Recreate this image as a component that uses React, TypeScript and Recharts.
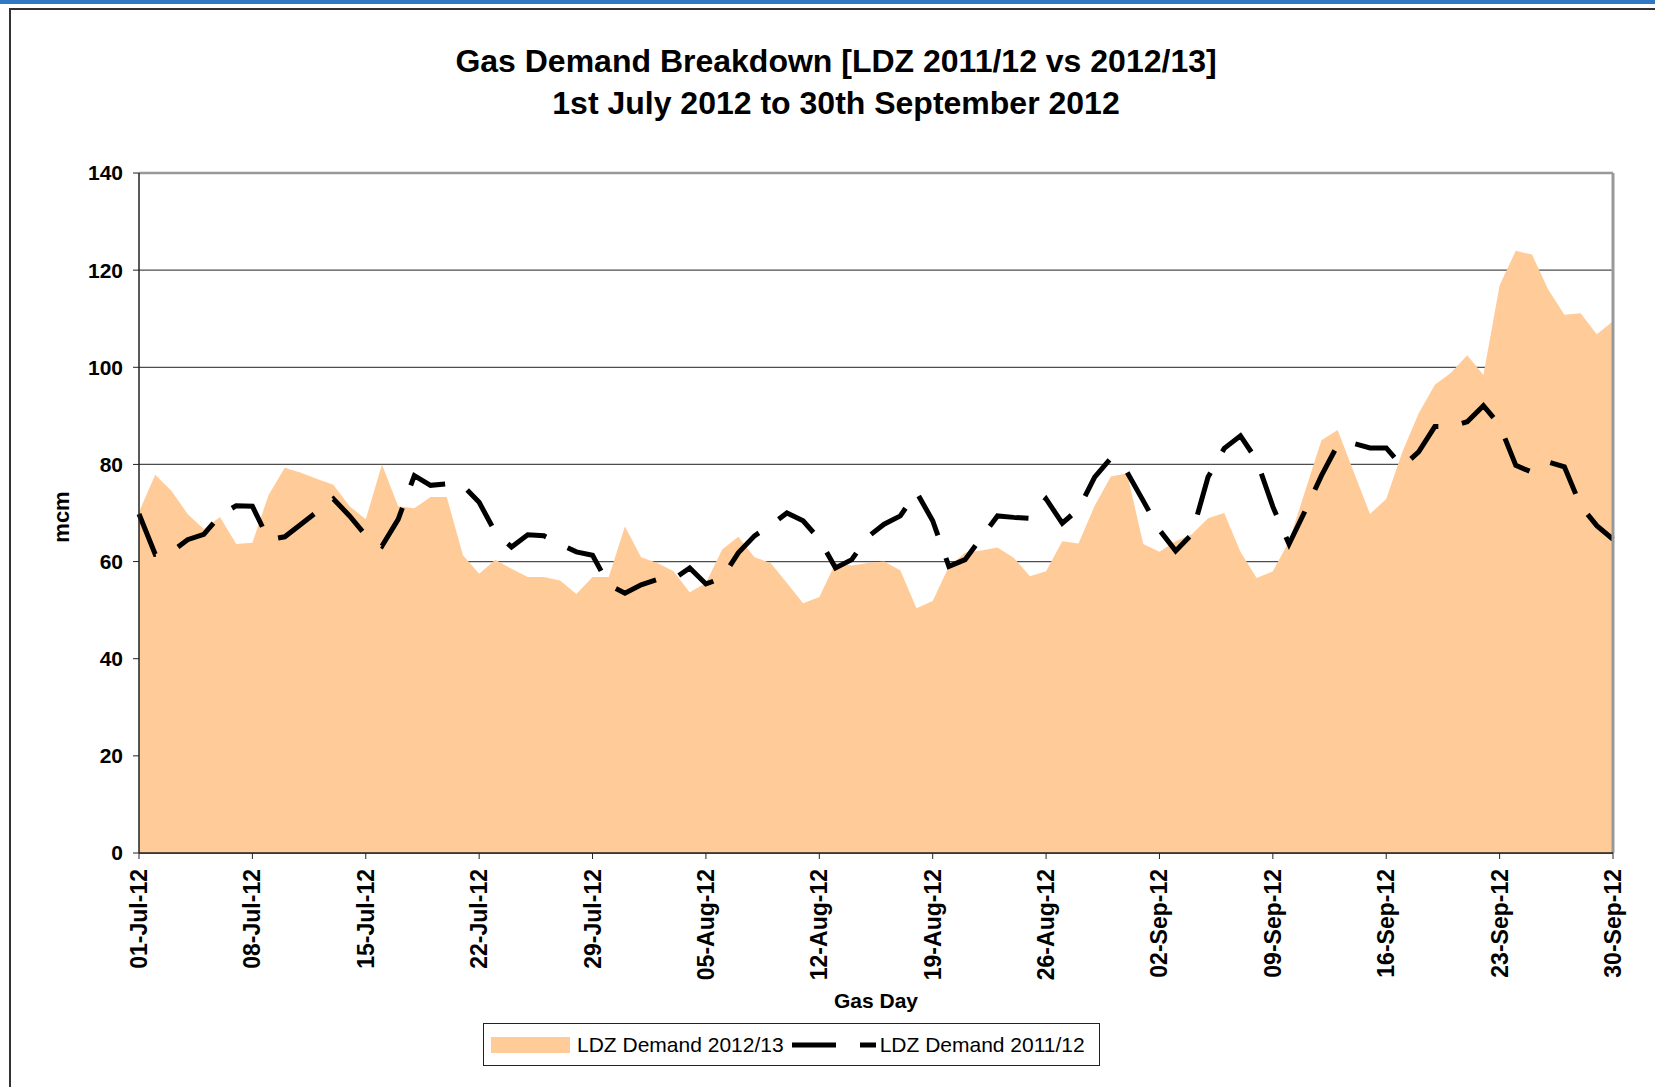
import {
  ComposedChart,
  Area,
  Line,
  XAxis,
  YAxis,
  CartesianGrid,
  ReferenceLine,
} from "recharts";

// gas days, 01-Jul-12 .. 30-Sep-12
const months = [
  { name: "Jul", days: 31 },
  { name: "Aug", days: 31 },
  { name: "Sep", days: 30 },
];
const gasDays: string[] = months.flatMap((m) =>
  Array.from({ length: m.days }, (_, i) => `${String(i + 1).padStart(2, "0")}-${m.name}-12`)
);

// LDZ demand 2012/13 (mcm)
const ldz1213 = [
  70.2, 77.9, 74.6, 69.8, 66.7, 69.2, 63.6, 63.9, 73.7, 79.3,
  78.3, 77.0, 75.8, 71.4, 68.7, 80.0, 71.4, 71.0, 73.3, 73.3,
  61.3, 57.5, 60.4, 58.5, 56.8, 56.8, 56.1, 53.3, 56.8, 56.8,
  67.2, 60.9, 59.7, 58.0, 53.7, 55.6, 62.5, 65.1, 60.9, 59.7,
  55.6, 51.4, 52.7, 59.7, 59.2, 59.7, 60.0, 58.2, 50.4, 51.9,
  59.0, 61.8, 62.3, 62.9, 60.8, 57.0, 58.0, 64.2, 63.7, 71.5,
  77.5, 78.2, 63.6, 62.0, 64.2, 65.6, 68.9, 70.0, 62.0, 56.6,
  58.0, 64.2, 74.6, 85.0, 87.1, 78.4, 69.8, 72.9, 82.6, 90.5,
  96.4, 98.9, 102.5, 98.4, 116.9, 124.0, 123.2, 116.0, 110.8, 111.1,
  106.8, 109.5,
];

// LDZ demand 2011/12 (mcm)
const ldz1112 = [
  69.8, 61.5, 62.0, 64.5, 65.6, 69.5, 71.5, 71.4, 64.5, 65.1,
  67.7, 70.3, 72.9, 69.4, 65.4, 63.2, 68.7, 77.7, 75.7, 76.0,
  75.6, 72.2, 66.0, 63.0, 65.5, 65.3, 63.6, 62.0, 61.3, 55.2,
  53.5, 55.2, 56.3, 56.4, 58.7, 55.4, 56.6, 61.8, 65.3, 67.5,
  70.0, 68.4, 64.6, 58.7, 60.4, 65.1, 67.7, 69.4, 74.3, 68.4,
  59.0, 60.4, 64.9, 69.4, 69.1, 68.9, 72.9, 67.9, 70.8, 77.4,
  81.3, 78.4, 72.5, 66.5, 62.2, 65.6, 77.4, 83.3, 85.9, 80.9,
  71.3, 63.6, 70.5, 77.7, 84.0, 84.3, 83.4, 83.4, 79.5, 82.6,
  87.8, 87.8, 88.8, 92.1, 88.1, 79.8, 78.4, 80.5, 79.5, 71.5,
  67.4, 64.6,
];

const yTicks = [0, 20, 40, 60, 80, 100, 120, 140];

const data = gasDays.map((d, i) => ({
  day: d,
  d1213: ldz1213[i],
  d1112: ldz1112[i],
}));

const FONT = "'Liberation Sans', Arial, sans-serif";
const ORANGE = "#FFCC99";

const DayTick = ({ x, y, payload }: any) => (
  <text
    x={x}
    y={y + 8}
    transform={`rotate(-90, ${x}, ${y + 8})`}
    textAnchor="end"
    dominantBaseline="central"
    fontFamily={FONT}
    fontWeight="bold"
    fontSize={23}
    fill="#000"
  >
    {payload.value}
  </text>
);

export default function App() {
  return (
    <div
      style={{
        position: "absolute",
        left: 0,
        top: 0,
        width: 1655,
        height: 1087,
        background: "#fff",
        overflow: "hidden",
        fontFamily: FONT,
      }}
    >
      <div style={{ position: "absolute", left: 0, top: 0, width: 1655, height: 4, background: "#2E78C4" }} />
      <div
        style={{
          position: "absolute",
          left: 9,
          top: 8,
          width: 1660,
          height: 1100,
          borderTop: "2px solid #333",
          borderLeft: "2px solid #333",
        }}
      />
      <div
        style={{
          position: "absolute",
          left: 10,
          width: 1652,
          top: 40,
          textAlign: "center",
          fontWeight: "bold",
          fontSize: 32,
          lineHeight: "42px",
          color: "#000",
        }}
      >
        <div>Gas Demand Breakdown [LDZ 2011/12 vs 2012/13]</div>
        <div>1st July 2012 to 30th September 2012</div>
      </div>

      <ComposedChart
        width={1655}
        height={1087}
        data={data}
        margin={{ top: 173, right: 42, left: 0, bottom: 114 }}
        style={{ position: "absolute", left: 0, top: 0 }}
      >
        <CartesianGrid vertical={false} stroke="#4d4d4d" strokeWidth={1.3} />
        <XAxis
          dataKey="day"
          scale="point"
          padding={{ left: 0, right: 0 }}
          interval={6}
          height={120}
          tick={<DayTick />}
          tickSize={6}
          axisLine={{ stroke: "#222", strokeWidth: 1.5 }}
          tickLine={{ stroke: "#222" }}
        />
        <YAxis
          domain={[0, 140]}
          ticks={yTicks}
          width={139}
          tickSize={6}
          tickMargin={10}
          axisLine={{ stroke: "#222", strokeWidth: 1.5 }}
          tickLine={{ stroke: "#222" }}
          tick={{ fontFamily: FONT, fontWeight: "bold", fontSize: 21, fill: "#000" }}
        />
        <Area
          type="linear"
          dataKey="d1213"
          name="LDZ Demand 2012/13"
          fill={ORANGE}
          fillOpacity={1}
          stroke="none"
          isAnimationActive={false}
        />
        <Line
          type="linear"
          dataKey="d1112"
          name="LDZ Demand 2011/12"
          stroke="#000"
          strokeWidth={5}
          strokeDasharray="44 24"
          strokeLinecap="butt"
          dot={false}
          isAnimationActive={false}
        />
        <ReferenceLine y={140} stroke="#999" strokeWidth={2.5} />
        <ReferenceLine x={gasDays[gasDays.length - 1]} stroke="#999" strokeWidth={3} />
      </ComposedChart>

      <div
        style={{
          position: "absolute",
          left: 62,
          top: 517,
          transform: "translate(-50%, -50%) rotate(-90deg)",
          fontWeight: "bold",
          fontSize: 22,
        }}
      >
        mcm
      </div>
      <div
        style={{
          position: "absolute",
          left: 876,
          top: 1001,
          transform: "translate(-50%, -50%)",
          fontWeight: "bold",
          fontSize: 21,
        }}
      >
        Gas Day
      </div>

      {/* legend */}
      <div
        style={{
          position: "absolute",
          left: 483,
          top: 1023,
          width: 615,
          height: 41,
          border: "1.5px solid #222",
          display: "flex",
          alignItems: "center",
          fontSize: 21,
          color: "#000",
          whiteSpace: "nowrap",
        }}
      >
        <div style={{ width: 79, height: 16, background: ORANGE, marginLeft: 7, marginRight: 7 }} />
        <span>LDZ Demand 2012/13</span>
        <svg width={84} height={12} style={{ marginLeft: 8, marginRight: 4 }}>
          <line x1={0} y1={6} x2={84} y2={6} stroke="#000" strokeWidth={5} strokeDasharray="44 24" />
        </svg>
        <span>LDZ Demand 2011/12</span>
      </div>
    </div>
  );
}
